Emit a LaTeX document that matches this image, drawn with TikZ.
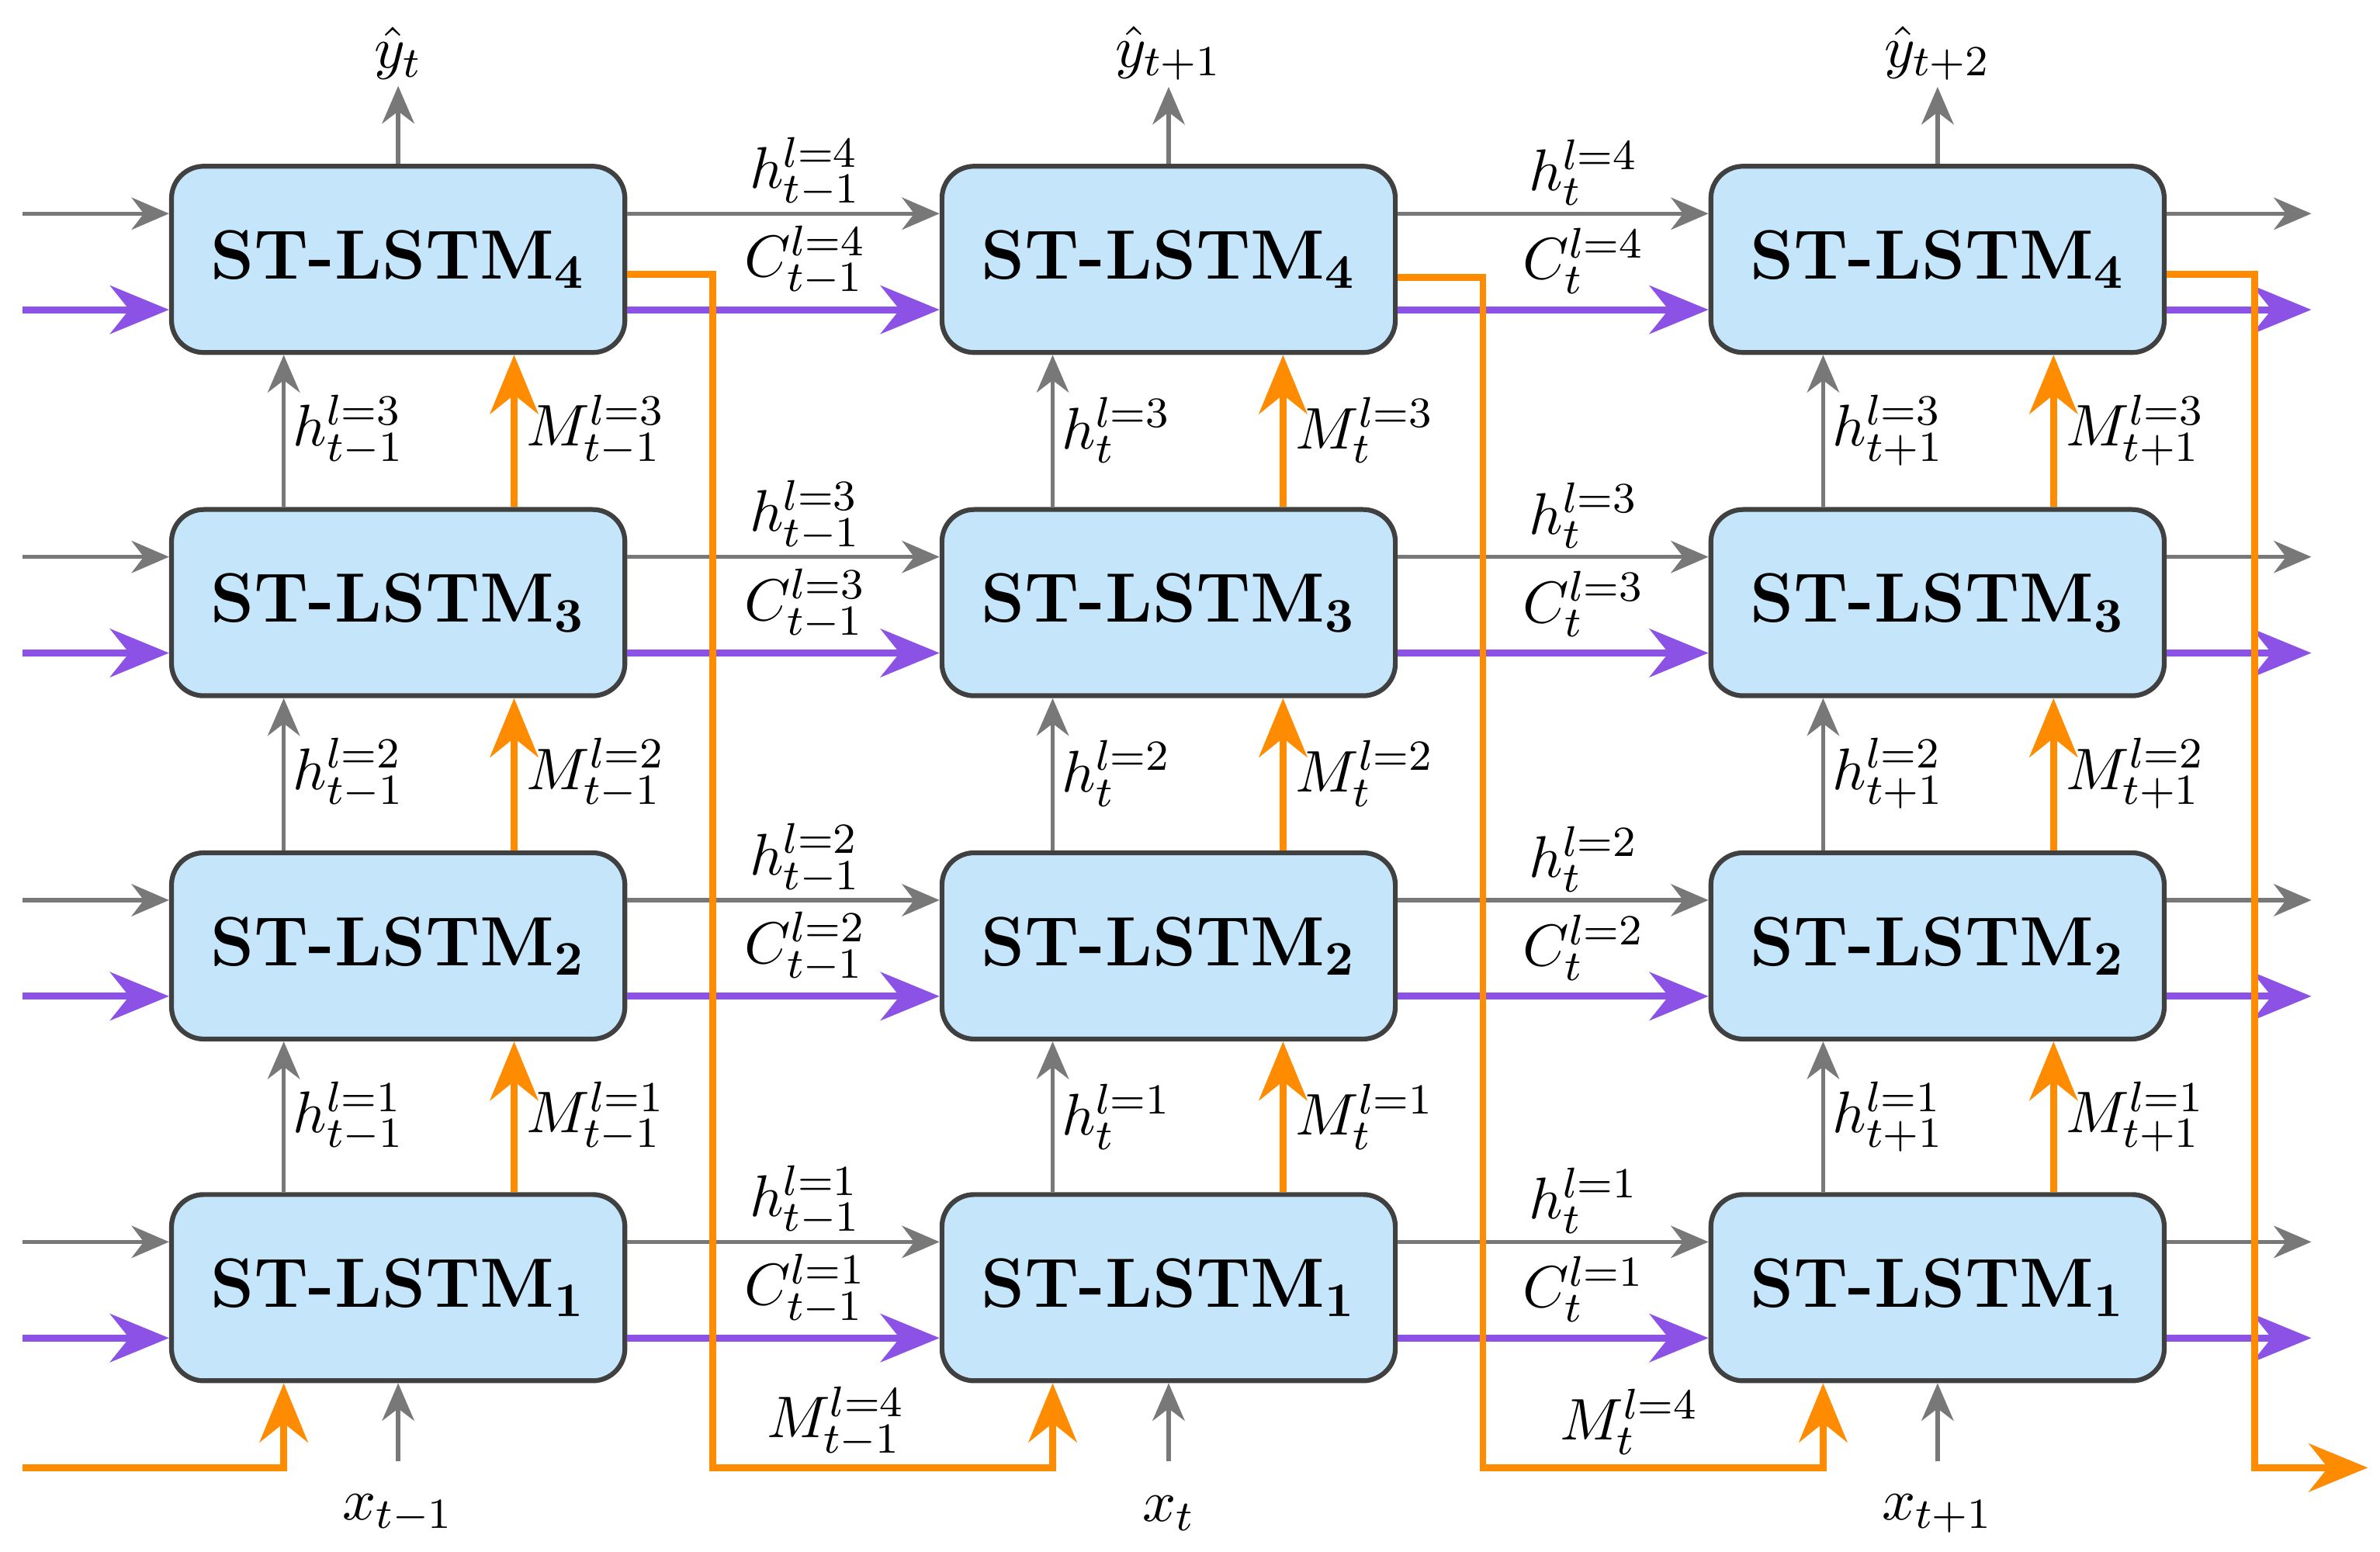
\documentclass[tikz,border=0pt]{standalone}
\usetikzlibrary{arrows.meta}
\begin{document}
\definecolor{boxfill}{RGB}{197,229,251}
\definecolor{pur}{RGB}{140,82,230}
\definecolor{org}{RGB}{255,140,0}
\definecolor{gr}{RGB}{120,120,120}
\begin{tikzpicture}[x=0.01cm,y=-0.01cm,
 cell/.style={draw=black!75,line width=0.9pt,fill=boxfill,rounded corners=6pt,minimum width=2.97cm,minimum height=1.22cm,font=\fontsize{13}{15}\selectfont\bfseries},
 ga/.style={draw=gr,line width=0.8pt,-{Stealth[length=7pt,width=6pt]}},
 pa/.style={draw=pur,line width=1.3pt,-{Stealth[length=11pt,width=9pt]}},
 oa/.style={draw=org,line width=1.3pt,-{Stealth[length=11pt,width=9pt]}},
 lab/.style={font=\fontsize{11}{13}\selectfont,inner sep=1pt}]
\useasboundingbox (0,0) rectangle (1560,1017);
\foreach \c/\cx in {1/261,2/766,3/1270}{
 \foreach \r/\cy in {4/170,3/395,2/620,1/844}{
  \node[cell] (b\c\r) at (\cx,\cy) {ST-LSTM$_{\mathbf{\r}}$};
 }}
\foreach \r/\cy in {4/170,3/395,2/620,1/844}{
 \coordinate (lg\r) at (15,\cy-30);
 \coordinate (lp\r) at (15,\cy+33);
 \draw[ga] (lg\r) -- (b1\r.west|-lg\r);
 \draw[pa] (lp\r) -- (b1\r.west|-lp\r);
 \coordinate (rg\r) at (1515,\cy-30);
 \coordinate (rp\r) at (1515,\cy+33);
 \draw[ga] (b3\r.east|-rg\r) -- (rg\r);
 \draw[pa] (b3\r.east|-rp\r) -- (rp\r);
 \draw[ga] (b1\r.east|-lg\r) -- (b2\r.west|-lg\r);
 \draw[pa] (b1\r.east|-lp\r) -- (b2\r.west|-lp\r);
 \draw[ga] (b2\r.east|-lg\r) -- (b3\r.west|-lg\r);
 \draw[pa] (b2\r.east|-lp\r) -- (b3\r.west|-lp\r);
}
\foreach \r/\cy in {4/170,3/395,2/620,1/844}{
 \node[lab] at (528,\cy-57) {$h^{l=\r}_{t-1}$};
 \node[lab] at (528,\cy+1) {$C^{l=\r}_{t-1}$};
 \node[lab] at (1038,\cy-57) {$h^{l=\r}_{t}$};
 \node[lab] at (1038,\cy+1) {$C^{l=\r}_{t}$};
}
\foreach \c/\gx/\ox/\s in {1/186/337/{t-1},2/690/841/{t},3/1195/1346/{t+1}}{
 \foreach \lo/\up/\cy in {1/2/732,2/3/507,3/4/282}{
  \draw[ga] (b\c\lo.north-|\gx,0) -- (b\c\up.south-|\gx,0);
  \draw[oa] (b\c\lo.north-|\ox,0) -- (b\c\up.south-|\ox,0);
  \node[lab,anchor=west] at (\gx+2,\cy) {$h^{l=\lo}_{\s}$};
  \node[lab,anchor=west] at (\ox+4,\cy) {$M^{l=\lo}_{\s}$};
 }}
\foreach \c/\cx/\y/\x in {1/261/t/{t-1},2/766/{t+1}/t,3/1270/{t+2}/{t+1}}{
 \node[lab] (y\c) at (\cx,35) {$\hat{y}_{\y}$};
 \draw[ga] (b\c4.north) -- (y\c.south);
 \node[lab] (x\c) at (\cx,992) {$x_{\x}$};
 \coordinate (xs\c) at (\cx,958);
 \draw[ga] (xs\c) -- (b\c1.south);
}
\coordinate (o0) at (15,962);
\draw[oa] (o0) -| (b11.south-|186,0);
\draw[oa] (b14.east|-0,180) -| (467,962) -| (b21.south-|690,0);
\draw[oa] (b24.east|-0,182) -| (972,962) -| (b31.south-|1195,0);
\coordinate (oend) at (1552,962);
\draw[oa] (b34.east|-0,180) -| (1478,962) -- (oend);
\node[lab] at (548,932) {$M^{l=4}_{t-1}$};
\node[lab] at (1068,932) {$M^{l=4}_{t}$};
\end{tikzpicture}
\end{document}
